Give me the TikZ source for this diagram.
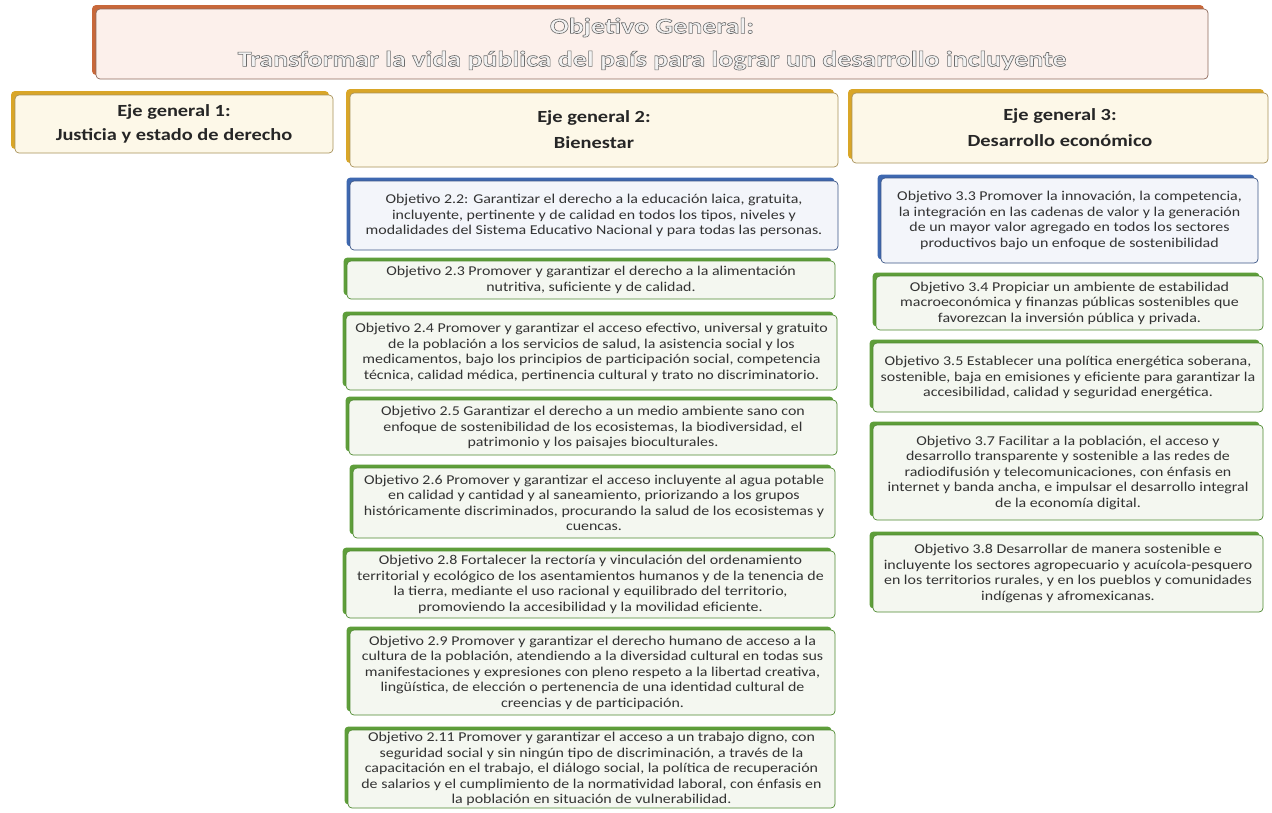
\documentclass[tikz,border=0pt]{standalone}
\usepackage{fontspec}
\usetikzlibrary{shadows,backgrounds,calc}
\setmainfont{Carlito}
\newfontfamily\bodyfont[FakeStretch=1.18]{Carlito}
\newfontfamily\ejefont[FakeStretch=1.2]{Carlito}
\newfontfamily\titlefont[FakeStretch=1.27]{Carlito}
\definecolor{txt}{HTML}{333333}
\definecolor{blueback}{HTML}{3E68B0}
\definecolor{bluedark}{HTML}{3C5686}
\definecolor{bluefill}{HTML}{F3F5FA}
\definecolor{greenback}{HTML}{5E9E3A}
\definecolor{greendark}{HTML}{4E8A30}
\definecolor{greenfill}{HTML}{F4F7F0}
\definecolor{goldback}{HTML}{D9A628}
\definecolor{golddark}{HTML}{A8925A}
\definecolor{goldfill}{HTML}{FDF8E8}
\definecolor{orangeback}{HTML}{C8683A}
\definecolor{orangedark}{HTML}{8E6A5C}
\definecolor{orangefill}{HTML}{FCF0EB}
\definecolor{titlefill}{HTML}{F2F2F2}
\newcommand{\outlined}[1]{{\color{titlefill}\special{pdf:literal direct 2 Tr 0.6 w 0.42 0.42 0.42 RG}#1\special{pdf:literal direct 0 Tr}}}
\tikzset{
  basebox/.style={rounded corners=4pt, line width=0.7pt, align=center, inner sep=0pt, text=txt,
    font=\bodyfont\fontsize{13.5}{15.5}\selectfont},
  bluebox/.style={basebox, draw=bluedark, fill=bluefill,
    general shadow={fill=blueback, shadow xshift=-3.5pt, shadow yshift=3.5pt}},
  greenbox/.style={basebox, draw=greendark, fill=greenfill,
    general shadow={fill=greenback, shadow xshift=-3.5pt, shadow yshift=3.5pt}},
  ejebox/.style={basebox, draw=golddark, fill=goldfill, text=black!85,
    font=\ejefont\bfseries\fontsize{17}{19}\selectfont,
    general shadow={fill=goldback, shadow xshift=-4pt, shadow yshift=4pt}},
  topbox/.style={basebox, draw=orangedark, fill=orangefill,
    font=\titlefont\bfseries\fontsize{22}{24}\selectfont,
    general shadow={fill=orangeback, shadow xshift=-4pt, shadow yshift=4pt}},
  goldline/.style={draw=goldback, line width=1.2pt},
  blueline/.style={draw=blueback, line width=1.2pt},
  greenline/.style={draw=greenback, line width=1.2pt},
}
\begin{document}
\begin{tikzpicture}[x=1pt,y=-1pt]
\useasboundingbox (0,0) rectangle (1272,812);
\fill[white] (0,0) rectangle (1272,812);

\node[topbox, minimum width=1112, minimum height=70] (top) at (652,44)
  {\outlined{Objetivo General:}\\[9pt]\outlined{Transformar la vida pública del país para lograr un desarrollo incluyente}};

\node[ejebox, minimum width=318, minimum height=58] (e1) at (174,124)
  {Eje general 1:\\[5pt]Justicia y estado de derecho};
\node[ejebox, minimum width=488, minimum height=74] (e2) at (594,130)
  {Eje general 2:\\[7pt]Bienestar};
\node[ejebox, minimum width=416, minimum height=70] (e3) at (1060,128)
  {Eje general 3:\\[7pt]Desarrollo económico};

% column 2
\node[bluebox, minimum width=488, minimum height=69] (o22) at (594,215.5)
  {Objetivo 2.2: Garantizar el derecho a la educación laica, gratuita,\\
   incluyente, pertinente y de calidad en todos los tipos, niveles y\\
   modalidades del Sistema Educativo Nacional y para todas las personas.};
\node[greenbox, minimum width=488, minimum height=38] (o23) at (591,280)
  {Objetivo 2.3 Promover y garantizar el derecho a la alimentación\\
   nutritiva, suficiente y de calidad.};
\node[greenbox, minimum width=491, minimum height=75] (o24) at (591.5,352.5)
  {Objetivo 2.4 Promover y garantizar el acceso efectivo, universal y gratuito\\
   de la población a los servicios de salud, la asistencia social y los\\
   medicamentos, bajo los principios de participación social, competencia\\
   técnica, calidad médica, pertinencia cultural y trato no discriminatorio.};
\node[greenbox, minimum width=488, minimum height=55] (o25) at (593,427.5)
  {Objetivo 2.5 Garantizar el derecho a un medio ambiente sano con\\
   enfoque de sostenibilidad de los ecosistemas, la biodiversidad, el\\
   patrimonio y los paisajes bioculturales.};
\node[greenbox, minimum width=482, minimum height=70] (o26) at (594,503)
  {Objetivo 2.6 Promover y garantizar el acceso incluyente al agua potable\\
   en calidad y cantidad y al saneamiento, priorizando a los grupos\\
   históricamente discriminados, procurando la salud de los ecosistemas y\\
   cuencas.};
\node[greenbox, minimum width=489, minimum height=67] (o28) at (590.5,584.5)
  {Objetivo 2.8 Fortalecer la rectoría y vinculación del ordenamiento\\
   territorial y ecológico de los asentamientos humanos y de la tenencia de\\
   la tierra, mediante el uso racional y equilibrado del territorio,\\
   promoviendo la accesibilidad y la movilidad eficiente.};
\node[greenbox, minimum width=485, minimum height=85] (o29) at (592.5,672.5)
  {Objetivo 2.9 Promover y garantizar el derecho humano de acceso a la\\
   cultura de la población, atendiendo a la diversidad cultural en todas sus\\
   manifestaciones y expresiones con pleno respeto a la libertad creativa,\\
   lingüística, de elección o pertenencia de una identidad cultural de\\
   creencias y de participación.};
\node[greenbox, minimum width=487, minimum height=78] (o211) at (591.5,769)
  {Objetivo 2.11 Promover y garantizar el acceso a un trabajo digno, con\\
   seguridad social y sin ningún tipo de discriminación, a través de la\\
   capacitación en el trabajo, el diálogo social, la política de recuperación\\
   de salarios y el cumplimiento de la normatividad laboral, con énfasis en\\
   la población en situación de vulnerabilidad.};

% column 3
\node[bluebox, minimum width=377, minimum height=85] (o33) at (1069.5,220.5)
  {Objetivo 3.3 Promover la innovación, la competencia,\\
   la integración en las cadenas de valor y la generación\\
   de un mayor valor agregado en todos los sectores\\
   productivos bajo un enfoque de sostenibilidad};
\node[greenbox, minimum width=387, minimum height=54] (o34) at (1069.5,303)
  {Objetivo 3.4 Propiciar un ambiente de estabilidad\\
   macroeconómica y finanzas públicas sostenibles que\\
   favorezcan la inversión pública y privada.};
\node[greenbox, minimum width=390, minimum height=69] (o35) at (1068,377.5)
  {Objetivo 3.5 Establecer una política energética soberana,\\
   sostenible, baja en emisiones y eficiente para garantizar la\\
   accesibilidad, calidad y seguridad energética.};
\node[greenbox, minimum width=390, minimum height=95] (o37) at (1068,472.5)
  {Objetivo 3.7 Facilitar a la población, el acceso y\\
   desarrollo transparente y sostenible a las redes de\\
   radiodifusión y telecomunicaciones, con énfasis en\\
   internet y banda ancha, e impulsar el desarrollo integral\\
   de la economía digital.};
\node[greenbox, minimum width=390, minimum height=77] (o38) at (1068,573.5)
  {Objetivo 3.8 Desarrollar de manera sostenible e\\
   incluyente los sectores agropecuario y acuícola-pesquero\\
   en los territorios rurales, y en los pueblos y comunidades\\
   indígenas y afromexicanas.};

\begin{scope}[on background layer]
  \coordinate (hub) at ($(top.south)+(0,6)$);
  \draw[goldline] (top.south) -- (hub);
  \draw[goldline] (e1.north) |- (hub) -| (e3.north);
  \draw[goldline] (e2.north) -- (e2.north |- hub);
  \coordinate (c2) at (590,0);
  \draw[blueline] (c2 |- e2.south) -- (c2 |- o22.north);
  \draw[greenline] (c2 |- o22.south) -- (c2 |- o23.north);
  \draw[greenline] (c2 |- o23.south) -- (c2 |- o24.north);
  \draw[greenline] (c2 |- o24.south) -- (c2 |- o25.north);
  \draw[greenline] (c2 |- o25.south) -- (c2 |- o26.north);
  \draw[greenline] (c2 |- o26.south) -- (c2 |- o28.north);
  \draw[greenline] (c2 |- o28.south) -- (c2 |- o29.north);
  \draw[greenline] (c2 |- o29.south) -- (c2 |- o211.north);
  \coordinate (c3) at (1066,0);
  \draw[blueline] (c3 |- e3.south) -- (c3 |- o33.north);
  \draw[greenline] (c3 |- o33.south) -- (c3 |- o34.north);
  \draw[greenline] (c3 |- o34.south) -- (c3 |- o35.north);
  \draw[greenline] (c3 |- o35.south) -- (c3 |- o37.north);
  \draw[greenline] (c3 |- o37.south) -- (c3 |- o38.north);
\end{scope}
\end{tikzpicture}
\end{document}
